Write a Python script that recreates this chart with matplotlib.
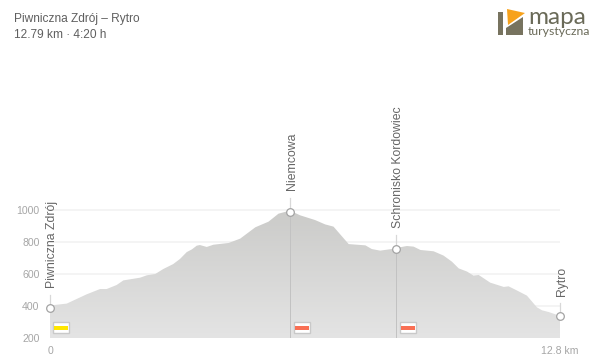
import numpy as np
import matplotlib
matplotlib.use('Agg')
from matplotlib import pyplot as plt
from matplotlib.patches import Polygon, Rectangle

plt.rcParams['font.family'] = ['Liberation Sans', 'DejaVu Sans']

# Profil wysokosci
km = [0, 0.03, 0.42, 0.67, 0.92, 1.255, 1.42, 1.67, 1.84, 2.26, 2.43, 2.64, 2.84, 3.09, 3.26, 3.43,
      3.56, 3.68, 3.76, 3.93, 4.10, 4.48, 4.77, 5.15, 5.48, 5.73, 6.02, 6.27, 6.65, 6.90, 7.11,
      7.49, 7.91, 8.07, 8.28, 8.68, 8.78, 8.95, 9.12, 9.29, 9.62, 9.87, 10.08, 10.25, 10.46,
      10.62, 10.75, 11.04, 11.38, 11.50, 11.67, 11.96, 12.21, 12.34, 12.51, 12.72, 12.79]
wys = [385, 404, 415, 444, 473, 506, 506, 531, 560, 577, 592, 600, 631, 662, 694, 737,
       754, 777, 781, 769, 783, 794, 821, 892, 927, 977, 996, 967, 937, 910, 896,
       787, 779, 756, 746, 760, 767, 775, 771, 750, 742, 715, 677, 635, 615,
       590, 594, 546, 519, 523, 502, 465, 392, 373, 362, 344, 337]

# Punkty na trasie
nazwy = ['Piwniczna Zdrój', 'Niemcowa', 'Schronisko Kordowiec', 'Rytro']
punkty_km = [0, 6.02, 8.68, 12.79]
punkty_wys = [385, 990, 755, 337]

# Odcinki szlaku
szlaki_km = [0.083, 6.13, 8.78]
szlaki_kolory = ['#ffe600', '#f97055', '#f97055']

y_ticks = [200, 400, 600, 800, 1000]
x_ticks = [0, 12.79]
x_labels = ['0', '12.8 km']

fig = plt.figure(figsize=(6.0, 3.62), dpi=100)
ax = fig.add_axes([50 / 600, 1 - 338 / 362, 510 / 600, 240 / 362])
ax.patch.set_alpha(0)

for s in ax.spines.values():
    s.set_visible(False)

# wypelnienie z gradientem
gradient = np.linspace(0, 1, 256).reshape(-1, 1)
cmap = matplotlib.colors.LinearSegmentedColormap.from_list('prof', ['#e4e4e4', '#cbcbc9'])
im = ax.imshow(gradient, extent=[0, 12.79, 200, 1000], origin='lower', aspect='auto',
               cmap=cmap, zorder=2)
poly = Polygon(list(zip(km, wys)) + [(12.79, 200), (0, 200)], closed=True,
               transform=ax.transData, facecolor='none', edgecolor='none')
ax.add_patch(poly)
im.set_clip_path(poly)
ax.set_xlim(0, 12.79)
ax.set_ylim(200, 1700)

ax.set_yticks(y_ticks)
ax.set_xticks(x_ticks)
ax.set_xticklabels(x_labels)
ax.tick_params(axis='both', length=0, labelsize=7.6, labelcolor='#a6a6a6')
ax.tick_params(axis='y', pad=7.5)
ax.tick_params(axis='x', pad=6)

# siatka
for y in y_ticks:
    ax.axhline(y, color='#f3f3f3', lw=1.3, zorder=1)
ax.axhline(200, color='#e6e6e6', lw=1.0, zorder=1.5)

# punkty i podpisy
gora = [470, 1075, 844, 419]
podpis_y = [512, 1125, 887, 462]
for nazwa, x, y, g, py in zip(nazwy, punkty_km, punkty_wys, gora, podpis_y):
    ax.plot([x, x], [y, g], color='#d8d8d8', lw=0.9, zorder=3, clip_on=False)
    if nazwa in ('Niemcowa', 'Schronisko Kordowiec'):
        ax.plot([x, x], [200, y], color='#c2c2c2', lw=0.72, zorder=3)
    ax.plot(x, y, 'o', ms=5.5, mfc='white', mec='#a3a3a3', mew=0.9, zorder=5, clip_on=False)
    ax.annotate(nazwa, (x, py), xytext=(1.5, 0), textcoords='offset points', rotation=90,
                ha='center', va='bottom', fontsize=8.8, color='#666666')

# znaczki szlaku
for x, kolor in zip(szlaki_km, szlaki_kolory):
    x0 = ax.transData.transform((x, 200))[0]
    r = Rectangle((x0, 362 - 333.3), 16, 11.6, transform=None, facecolor='white',
                  edgecolor='#c9c9c9', lw=1.0, zorder=6)
    fig.patches.append(r)
    r.set_figure(fig)
    p = Rectangle((x0 + 1, 362 - 330), 14, 4.3, transform=None, facecolor=kolor,
                  edgecolor='none', zorder=7)
    fig.patches.append(p)
    p.set_figure(fig)

# tytul
fig.text(14 / 600, 1 - 19 / 362, 'Piwniczna Zdrój – Rytro', fontsize=8.6, color='#5f5f5f',
         ha='left', va='center')
fig.text(14 / 600, 1 - 35 / 362, '12.79 km · 4:20 h', fontsize=8.6, color='#5f5f5f',
         ha='left', va='center')

# logo
logo = fig.add_axes([0, 0, 1, 1])
logo.set_xlim(0, 600)
logo.set_ylim(362, 0)
logo.axis('off')
logo.patch.set_alpha(0)
logo.add_patch(Polygon([(498, 12), (503, 12), (503, 35), (498, 35)], facecolor='#77735f', edgecolor='none'))
logo.add_patch(Polygon([(506, 28), (523, 17), (523, 35), (506, 35)], facecolor='#77735f', edgecolor='none'))
logo.add_patch(Polygon([(507, 9), (525, 13), (508, 25)], facecolor='#f7a21c', edgecolor='none'))
logo.text(528, 17, 'mapa', fontsize=17.5, color='#6a6a58', family='Lato', ha='left', va='center')
logo.text(528, 31.5, 'turystyczna', fontsize=8.8, color='#6a6a58', family='Lato', ha='left', va='center')

fig.savefig('out.png', dpi=100)
